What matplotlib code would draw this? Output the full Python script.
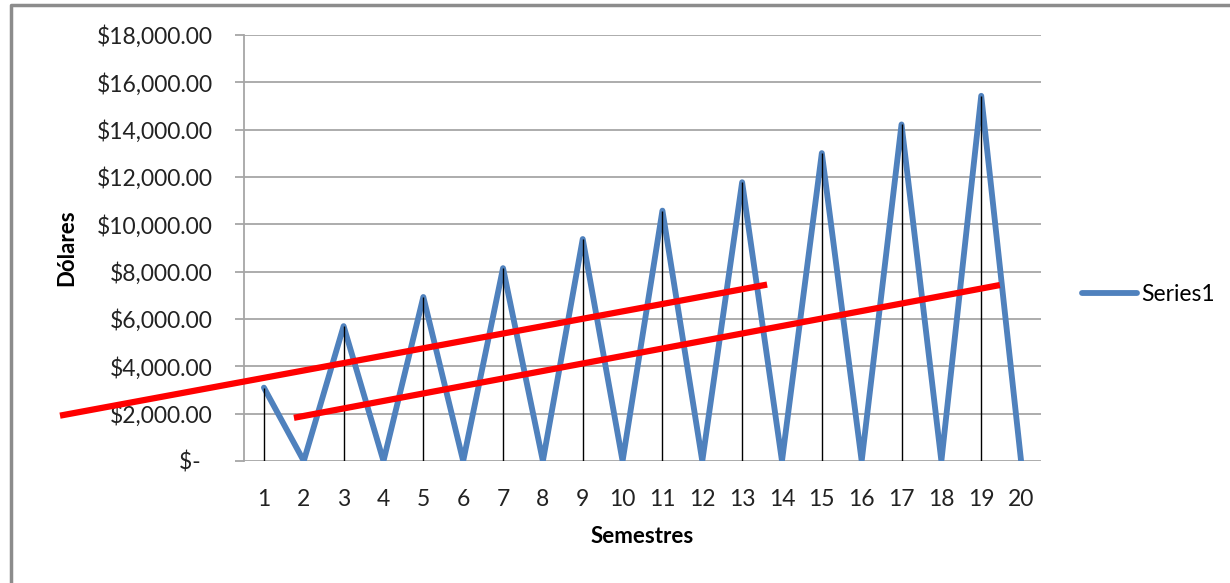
import matplotlib
matplotlib.use("Agg")
import matplotlib.pyplot as plt
from matplotlib.lines import Line2D
from matplotlib.ticker import FuncFormatter

semestres = list(range(1, 21))
valores = [3100, 0, 5700, 0, 6930, 0, 8150, 0, 9380, 0,
           10580, 0, 11780, 0, 13010, 0, 14220, 0, 15430, 0]

# red hand-drawn trend lines (data coords: semestre, dollars)
linea_a_x = [-4.04, 13.55]
linea_a_y = [1940, 7430]
linea_b_x = [1.83, 19.39]
linea_b_y = [1850, 7410]

plt.rcParams["font.family"] = ["Lato", "DejaVu Sans"]

fig = plt.figure(figsize=(12.3, 5.83), dpi=100)
ax = fig.add_axes([244 / 1230, 1 - 461 / 583, (1041 - 244) / 1230, (461 - 35) / 583])

grid_c = "#a6a6a6"
ax.plot(semestres, valores, color="#4f81bd", lw=4.2, solid_joinstyle="round",
        solid_capstyle="round", label="Series1", zorder=3)
ax.vlines(semestres, 0, valores, color="black", lw=1, zorder=4)
ax.plot(linea_a_x, linea_a_y, color="#ff0000", lw=4.5, clip_on=False, zorder=5)
ax.plot(linea_b_x, linea_b_y, color="#ff0000", lw=4.5, clip_on=False, zorder=5)

ax.set_xlim(0.5, 20.5)
ax.set_ylim(0, 18000)
ax.set_xticks(semestres)
ax.set_yticks(range(0, 18001, 2000))


def fmt(v, pos):
    if v == 0:
        return "$-  "
    return f"${v:,.2f}"


ax.yaxis.set_major_formatter(FuncFormatter(fmt))
ax.yaxis.grid(True, color=grid_c, lw=1.3)
ax.set_axisbelow(True)
for s in ["top", "right", "bottom"]:
    ax.spines[s].set_visible(False)
ax.spines["left"].set_color(grid_c)
ax.spines["left"].set_linewidth(1.3)
ax.tick_params(axis="y", length=6.5, width=1.3, color=grid_c, labelsize=16.5,
               labelcolor="#222222", pad=16)
ax.tick_params(axis="x", length=0, labelsize=16.5, labelcolor="#222222", pad=20)

ax.set_xlabel("Semestres", fontsize=16, fontweight="bold", labelpad=12)
ax.set_ylabel("Dólares", fontsize=16, fontweight="bold", labelpad=14)

ax.legend(loc="center left", bbox_to_anchor=(1.025, 0.39), frameon=False,
          fontsize=16.5, handlelength=2.4, handletextpad=0.2)

# outer chart border
fig.add_artist(Line2D([11 / 1230, 11 / 1230, 1.0], [0.0, 1 - 5 / 583, 1 - 5 / 583],
                      transform=fig.transFigure, color="#8c8c8c", lw=2.5))

plt.savefig("out.png")
